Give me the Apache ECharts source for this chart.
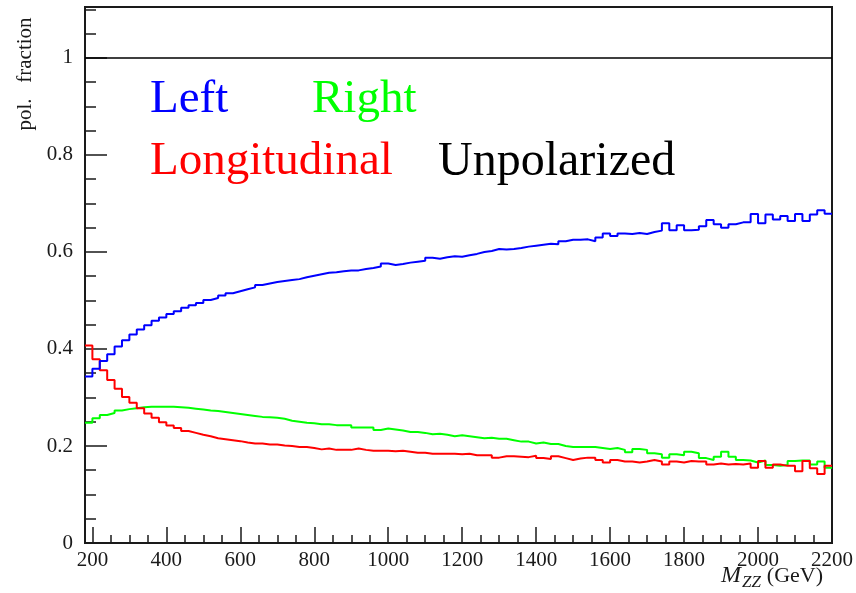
<!DOCTYPE html>
<html>
<head>
<meta charset="utf-8">
<script src="https://cdn.jsdelivr.net/npm/echarts@6/dist/echarts.min.js"></script>
<style>
  html, body { margin: 0; padding: 0; background: #ffffff; }
  #chart { width: 856px; height: 593px; }
</style>
</head>
<body>
<div id="chart"></div>
<script>
// Histogram binning in M_ZZ (GeV): 20 GeV bins from 180 to 2200
const binLowEdges = Array.from({ length: 101 }, (_, i) => 180 + 20 * i);
const upperEdge = 2200;

// Polarization fractions per bin
const leftFraction = [
  0.343, 0.359, 0.375, 0.389, 0.405, 0.418, 0.430, 0.440, 0.449, 0.458,
  0.465, 0.472, 0.478, 0.485, 0.490, 0.495, 0.501, 0.505, 0.510, 0.515,
  0.519, 0.523, 0.527, 0.532, 0.535, 0.538, 0.540, 0.542,
  0.544, 0.548, 0.551, 0.554, 0.557, 0.558, 0.560, 0.562, 0.562, 0.565,
  0.567, 0.570, 0.576, 0.573, 0.575, 0.578, 0.580, 0.582, 0.588, 0.586,
  0.589, 0.591, 0.590, 0.593, 0.596, 0.600, 0.602, 0.606, 0.605, 0.606,
  0.608, 0.611, 0.613, 0.615, 0.617, 0.616, 0.622, 0.625,
  0.625, 0.626, 0.622, 0.630, 0.638, 0.633, 0.638, 0.637, 0.639, 0.637,
  0.641, 0.644, 0.659, 0.645, 0.655, 0.645, 0.646, 0.653, 0.666, 0.657,
  0.650, 0.657, 0.661, 0.661, 0.678, 0.659, 0.677, 0.667, 0.674, 0.664,
  0.678, 0.664, 0.677, 0.686, 0.679
];

const rightFraction = [
  0.248, 0.257, 0.264, 0.268, 0.273, 0.276, 0.278, 0.280, 0.281, 0.281,
  0.281, 0.281, 0.280, 0.279, 0.277, 0.275, 0.273, 0.272, 0.270, 0.268,
  0.266, 0.264, 0.262, 0.260, 0.259, 0.258, 0.256, 0.252, 0.250, 0.248,
  0.247, 0.245,
  0.245, 0.243, 0.243, 0.243, 0.238, 0.238, 0.238, 0.233, 0.236, 0.234,
  0.232, 0.229, 0.229, 0.227, 0.224, 0.225, 0.223, 0.220, 0.222, 0.220,
  0.218, 0.216, 0.217, 0.215, 0.215, 0.212, 0.209, 0.209, 0.205, 0.207,
  0.204, 0.204, 0.200, 0.198,
  0.198, 0.198, 0.198, 0.196, 0.194, 0.196, 0.192, 0.187, 0.194, 0.192,
  0.185, 0.183, 0.176, 0.183, 0.181, 0.188, 0.185, 0.175, 0.171, 0.178,
  0.188, 0.178, 0.171, 0.170, 0.166, 0.170, 0.161, 0.159, 0.161, 0.169,
  0.170, 0.170, 0.162, 0.168, 0.155
];

const longitudinalFraction = [
  0.407, 0.379, 0.356, 0.336, 0.318, 0.301, 0.289, 0.278, 0.267, 0.258,
  0.249, 0.242, 0.237, 0.231, 0.227, 0.223, 0.220, 0.216, 0.214, 0.212,
  0.210, 0.207, 0.205, 0.205, 0.203, 0.203, 0.201, 0.200, 0.198, 0.198,
  0.196, 0.193, 0.195,
  0.192, 0.192, 0.192, 0.195, 0.192, 0.190, 0.190, 0.190, 0.189, 0.190,
  0.188, 0.186, 0.186, 0.184, 0.184, 0.184, 0.184, 0.183, 0.184, 0.181,
  0.181, 0.181, 0.176, 0.179, 0.179, 0.178, 0.177, 0.180, 0.175, 0.173,
  0.179, 0.175, 0.171, 0.174,
  0.176, 0.176, 0.171, 0.166, 0.171, 0.168, 0.168, 0.166, 0.168, 0.171,
  0.168, 0.162, 0.168, 0.166, 0.169, 0.168, 0.168, 0.162, 0.164, 0.162,
  0.163, 0.162, 0.164, 0.155, 0.169, 0.155, 0.162, 0.159, 0.159, 0.148,
  0.169, 0.154, 0.142, 0.159
];

const unpolarizedFraction = [
  1, 1, 1, 1, 1, 1, 1, 1, 1, 1, 1, 1, 1, 1, 1, 1, 1, 1, 1, 1,
  1, 1, 1, 1, 1, 1, 1, 1, 1, 1, 1, 1, 1, 1, 1, 1, 1, 1, 1, 1,
  1, 1, 1, 1, 1, 1, 1, 1, 1, 1, 1, 1, 1, 1, 1, 1, 1, 1, 1, 1,
  1, 1, 1, 1, 1, 1, 1, 1, 1, 1, 1, 1, 1, 1, 1, 1, 1, 1, 1, 1,
  1, 1, 1, 1, 1, 1, 1, 1, 1, 1, 1, 1, 1, 1, 1, 1, 1, 1, 1, 1,
  1
];

// Axis ticks
const xMajorTicks = [200, 400, 600, 800, 1000, 1200, 1400, 1600, 1800, 2000, 2200];
const xMinorTicks = [250, 300, 350, 450, 500, 550, 650, 700, 750, 850, 900, 950,
  1050, 1100, 1150, 1250, 1300, 1350, 1450, 1500, 1550, 1650, 1700, 1750,
  1850, 1900, 1950, 2050, 2100, 2150];
const yMajorTicks = [0, 0.2, 0.4, 0.6, 0.8, 1];
const yMinorTicks = [0.05, 0.1, 0.15, 0.25, 0.3, 0.35, 0.45, 0.5, 0.55, 0.65, 0.7,
  0.75, 0.85, 0.9, 0.95, 1.05, 1.1];

const serif = "'Liberation Serif', 'DejaVu Serif', serif";
const ink = '#1a1a1a';

// Step histogram: one point per low edge, closed at the upper edge
function histogramPoints(values) {
  const pts = values.map((v, i) => [binLowEdges[i], v]);
  pts.push([upperEdge, values[values.length - 1]]);
  return pts;
}

function histSeries(name, values, color, width) {
  return {
    name: name,
    type: 'line',
    step: 'end',
    xAxisIndex: 0,
    yAxisIndex: 0,
    showSymbol: false,
    symbol: 'none',
    silent: true,
    lineStyle: { color: color, width: width },
    data: histogramPoints(values)
  };
}

const plainNumber = (v) => String(v);

const chart = echarts.init(document.getElementById('chart'), null, { renderer: 'canvas' });

chart.setOption({
  animation: false,
  backgroundColor: '#ffffff',
  grid: {
    left: 85, right: 24, top: 7, bottom: 50,
    show: true, borderColor: ink, borderWidth: 2, backgroundColor: 'transparent'
  },
  xAxis: [
    {
      type: 'value', min: 180, max: 2200, position: 'bottom',
      axisLine: { show: false },
      splitLine: { show: false },
      axisTick: { show: true, inside: true, length: 16, customValues: xMajorTicks,
        lineStyle: { color: ink, width: 1.5 } },
      axisLabel: { customValues: xMajorTicks, formatter: plainNumber,
        fontFamily: serif, fontSize: 21, color: ink, margin: 7 }
    },
    {
      type: 'value', min: 180, max: 2200, position: 'bottom',
      axisLine: { show: false },
      splitLine: { show: false },
      axisTick: { show: true, inside: true, length: 8, customValues: xMinorTicks,
        lineStyle: { color: ink, width: 1.5 } },
      axisLabel: { show: false }
    }
  ],
  yAxis: [
    {
      type: 'value', min: 0, max: 1.105, position: 'left',
      axisLine: { show: false },
      splitLine: { show: false },
      axisTick: { show: true, inside: true, length: 22, customValues: yMajorTicks,
        lineStyle: { color: ink, width: 1.5 } },
      axisLabel: { customValues: yMajorTicks, formatter: plainNumber,
        fontFamily: serif, fontSize: 21, color: ink, margin: 12 }
    },
    {
      type: 'value', min: 0, max: 1.105, position: 'left',
      axisLine: { show: false },
      splitLine: { show: false },
      axisTick: { show: true, inside: true, length: 11, customValues: yMinorTicks,
        lineStyle: { color: ink, width: 1.5 } },
      axisLabel: { show: false }
    }
  ],
  series: [
    histSeries('Unpolarized', unpolarizedFraction, '#000000', 1.5),
    histSeries('Right', rightFraction, '#00ff00', 2),
    histSeries('Longitudinal', longitudinalFraction, '#ff0000', 2),
    histSeries('Left', leftFraction, '#0000ff', 2)
  ],
  graphic: [
    // y-axis title
    { type: 'text', x: 25, y: 74, rotation: Math.PI / 2,
      style: { text: 'pol.   fraction', font: "21px " + serif, fill: ink,
        textAlign: 'center', textVerticalAlign: 'middle' } },
    // x-axis title: M_ZZ (GeV)
    { type: 'text', x: 721, y: 576,
      style: { text: 'M', font: "italic 24px " + serif, fill: ink,
        textAlign: 'left', textVerticalAlign: 'middle' } },
    { type: 'text', x: 742, y: 583,
      style: { text: 'ZZ', font: "italic 17px " + serif, fill: ink,
        textAlign: 'left', textVerticalAlign: 'middle' } },
    { type: 'text', x: 823, y: 576,
      style: { text: '(GeV)', font: "22px " + serif, fill: ink,
        textAlign: 'right', textVerticalAlign: 'middle' } },
    // in-plot legend
    { type: 'text', x: 150, y: 100,
      style: { text: 'Left', font: "47px " + serif, fill: '#0000ff',
        textAlign: 'left', textVerticalAlign: 'middle' } },
    { type: 'text', x: 312, y: 100,
      style: { text: 'Right', font: "47px " + serif, fill: '#00ff00',
        textAlign: 'left', textVerticalAlign: 'middle' } },
    { type: 'text', x: 150, y: 162,
      style: { text: 'Longitudinal', font: "47px " + serif, fill: '#ff0000',
        textAlign: 'left', textVerticalAlign: 'middle' } },
    { type: 'text', x: 438, y: 162,
      style: { text: 'Unpolarized', font: "48px " + serif, fill: '#000000',
        textAlign: 'left', textVerticalAlign: 'middle' } }
  ]
});
</script>
</body>
</html>
